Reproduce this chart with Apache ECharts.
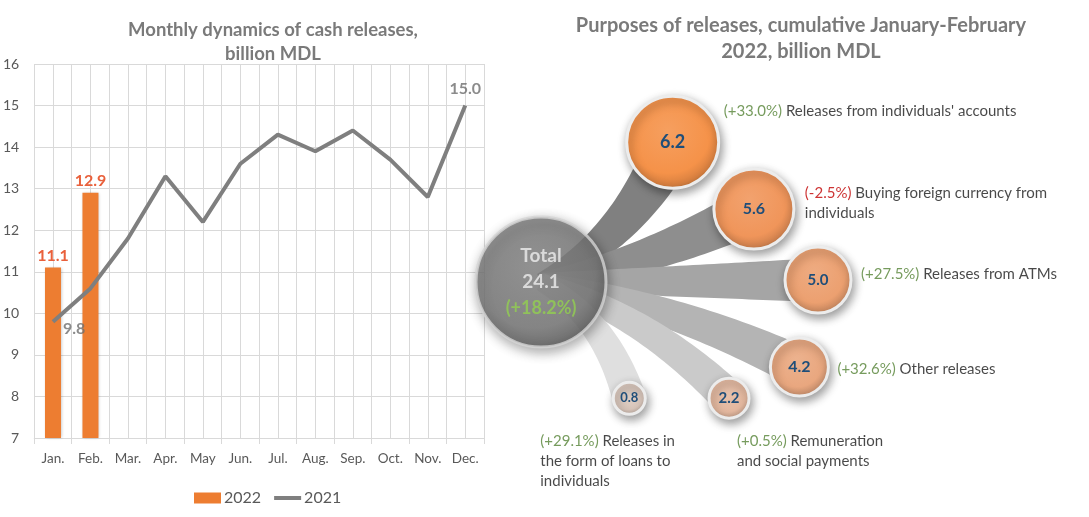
<!DOCTYPE html>
<html>
<head>
<meta charset="utf-8">
<script src="https://cdn.jsdelivr.net/npm/echarts@6/dist/echarts.min.js"></script>
<style>
html,body{margin:0;padding:0;background:#fff;}
#c{width:1089px;height:517px;}
</style>
</head>
<body>
<div id="c"></div>
<script>
// ---------- data ----------
const months = ['Jan.', 'Feb.', 'Mar.', 'Apr.', 'May', 'Jun.', 'Jul.', 'Aug.', 'Sep.', 'Oct.', 'Nov.', 'Dec.'];
const cash2022 = [11.1, 12.9];
const cash2021 = [9.8, 10.6, 11.8, 13.3, 12.2, 13.6, 14.3, 13.9, 14.4, 13.7, 12.8, 15.0];
const seriesNames = ['2022', '2021'];

const totalValue = 24.1;
const totalChange = '+18.2';
const purposeValues = [6.2, 5.6, 5.0, 4.2, 2.2, 0.8];
const purposeChanges = ['+33.0', '-2.5', '+27.5', '+32.6', '+0.5', '+29.1'];
const purposeNames = [
  "Releases from individuals' accounts",
  'Buying foreign currency from\nindividuals',
  'Releases from ATMs',
  'Other releases',
  'Remuneration\nand social payments',
  'Releases in\nthe form of loans to\nindividuals'
];

// ---------- layout / style (not data) ----------
const FONT = 'Lato';
const bubbleAngle = [-46.7, -18.9, -0.4, 18.2, 31.7, 52.8];
const bubbleDist = [192, 225, 277, 272, 221, 146];
const bubbleSize = [92, 80, 66, 58, 40, 32];
const bubbleFont = [18, 16, 15, 16, 15, 13];
const bubbleBase = ['#f59249', '#f0955a', '#eca070', '#e9a77f', '#e4b89f', '#dac7bc'];
const bandColors = ['#808080', '#8e8e8e', '#a5a5a5', '#b4b4b4', '#cacaca', '#dfdfdf'];
const labelPos = [
  {position: 'right', distance: 5, offset: [0, -31]},
  {position: 'right', distance: 5, offset: [6, -6]},
  {position: 'right', distance: 5, offset: [5, -6]},
  {position: 'right', distance: 5, offset: [4, 2]},
  {position: 'bottom', distance: 0, offset: [8, 13], align: 'left'},
  {position: 'bottom', distance: 0, offset: [-89, 17], align: 'left'}
];

function mix(hex, target, t) {
  const a = parseInt(hex.slice(1), 16);
  const r = (a >> 16) & 255, g = (a >> 8) & 255, b = a & 255;
  const tv = target === 'w' ? 255 : 0;
  const f = v => Math.round(v + (tv - v) * t);
  return 'rgb(' + f(r) + ',' + f(g) + ',' + f(b) + ')';
}
function radial(base) {
  return {
    type: 'radial', x: 0.45, y: 0.38, r: 0.62,
    colorStops: [
      {offset: 0, color: mix(base, 'w', 0.12)},
      {offset: 0.72, color: base},
      {offset: 0.92, color: mix(base, 'b', 0.12)},
      {offset: 1, color: mix(base, 'b', 0.22)}
    ]
  };
}

const chart = echarts.init(document.getElementById('c'), null, {renderer: 'canvas'});

// labels of the 2021 line: first and last month only
const lineLabelData = cash2021.map((v, i) => {
  if (i === 0) return {value: v, label: {show: true, position: 'right', distance: 10, offset: [0, 7]}};
  if (i === cash2021.length - 1) return {value: v, label: {show: true, position: 'top', distance: 9}};
  return '-';
});

const bubbleData = purposeValues.map((v, i) => ({
  value: [bubbleDist[i], bubbleAngle[i], v],
  symbolSize: bubbleSize[i],
  itemStyle: {color: radial(bubbleBase[i])},
  label: {fontSize: bubbleFont[i]}
}));

const outerData = purposeValues.map((v, i) => ({
  value: [bubbleDist[i], bubbleAngle[i], v],
  symbolSize: bubbleSize[i],
  label: Object.assign({
    formatter: (purposeChanges[i][0] === '-' ? '{r|' : '{g|') + '(' + purposeChanges[i] + '%)} ' + purposeNames[i]
  }, labelPos[i])
}));

const option = {
  animation: false,
  backgroundColor: '#ffffff',
  textStyle: {fontFamily: FONT},
  title: [
    {
      text: 'Monthly dynamics of cash releases,\nbillion MDL',
      left: 268, top: 13, textAlign: 'center',
      textStyle: {fontFamily: FONT, fontSize: 18.5, fontWeight: 'bold', color: '#7a7a7a', lineHeight: 24}
    },
    {
      text: 'Purposes of releases, cumulative January-February\n2022, billion MDL',
      left: 796, top: 8, textAlign: 'center',
      textStyle: {fontFamily: FONT, fontSize: 20, fontWeight: 'bold', color: '#7a7a7a', lineHeight: 26}
    }
  ],
  legend: {
    data: [
      {name: seriesNames[0], icon: 'rect'},
      {name: seriesNames[1], icon: 'path://M0,0L27,0L27,4L0,4Z', itemStyle: {color: '#7f7f7f'}}
    ],
    left: 189, top: 485,
    itemWidth: 27, itemHeight: 11, itemGap: 13, symbolKeepAspect: true,
    textStyle: {fontFamily: FONT, fontSize: 16, color: '#595959', padding: [0, 0, 0, -2]},
    selectedMode: false
  },
  grid: {left: 33, right: 605, top: 64, bottom: 79, containLabel: false},
  xAxis: [
    {
      type: 'category', data: months, boundaryGap: true,
      axisLine: {show: true, lineStyle: {color: '#d9d9d9', width: 1}},
      axisTick: {show: true, length: 6, lineStyle: {color: '#d9d9d9'}},
      axisLabel: {fontFamily: FONT, fontSize: 13.5, color: '#595959', margin: 14},
      splitLine: {show: false}
    },
    {
      type: 'value', min: 0, max: 24, interval: 1, position: 'bottom',
      axisLine: {show: false}, axisTick: {show: false}, axisLabel: {show: false},
      splitLine: {show: true, lineStyle: {color: '#d9d9d9', width: 1}}
    }
  ],
  yAxis: {
    type: 'value', min: 7, max: 16, interval: 1,
    axisLine: {show: false}, axisTick: {show: false},
    axisLabel: {fontFamily: FONT, fontSize: 14, color: '#595959', margin: 15},
    splitLine: {show: true, lineStyle: {color: '#d9d9d9', width: 1}}
  },
  polar: {center: [541, 282], radius: 300},
  radiusAxis: {
    type: 'value', min: 0, max: 300,
    axisLine: {show: false}, axisTick: {show: false}, axisLabel: {show: false}, splitLine: {show: false}
  },
  angleAxis: {
    type: 'value', min: -180, max: 180, startAngle: 180, clockwise: true,
    axisLine: {show: false}, axisTick: {show: false}, axisLabel: {show: false}, splitLine: {show: false}
  },
  series: [
    {
      name: seriesNames[0], type: 'bar', xAxisIndex: 0, yAxisIndex: 0,
      data: cash2022, barWidth: 16,
      itemStyle: {color: '#ed7d31', shadowBlur: 3, shadowColor: 'rgba(0,0,0,0.25)', shadowOffsetX: 1},
      label: {show: true, position: 'top', distance: 4, fontFamily: FONT, fontSize: 16, fontWeight: 'bold', color: '#e9603b',
        formatter: p => p.value.toFixed(1)},
      z: 2
    },
    {
      name: seriesNames[1], type: 'line', xAxisIndex: 0, yAxisIndex: 0,
      data: cash2021, symbol: 'none',
      lineStyle: {color: '#7f7f7f', width: 4},
      itemStyle: {color: '#7f7f7f'},
      z: 3
    },
    {
      type: 'scatter', xAxisIndex: 0, yAxisIndex: 0, silent: true,
      data: lineLabelData, symbolSize: 0,
      itemStyle: {color: 'rgba(0,0,0,0)'},
      label: {show: false, fontFamily: FONT, fontSize: 16, fontWeight: 'bold', color: '#6e6e6e',
        formatter: p => Number(p.value).toFixed(1)},
      z: 4
    },
    {
      type: 'custom', coordinateSystem: 'polar', polarIndex: 0, z: 1, silent: true,
      data: purposeValues.map((v, i) => [bubbleDist[i], bubbleAngle[i], i, v]),
      renderItem: function (params, api) {
        const i = api.value(2);
        const p0 = api.coord([0, 0]);
        const p1 = api.coord([api.value(0), api.value(1)]);
        const dx = p1[0] - p0[0], dy = p1[1] - p0[1];
        const d = Math.sqrt(dx * dx + dy * dy);
        const th = Math.atan2(dy, dx);
        const thc = th * 0.55;
        const q = [p0[0] + 0.5 * d * Math.cos(thc), p0[1] + 0.5 * d * Math.sin(thc)];
        const r = bubbleSize[i] / 2;
        const w0 = 9, w1 = 12 + 0.3 * r;
        const left = [], right = [];
        const N = 40;
        for (let k = 0; k <= N; k++) {
          const t = k / N;
          const a = (1 - t) * (1 - t), b = 2 * (1 - t) * t, c = t * t;
          const bx = a * p0[0] + b * q[0] + c * p1[0];
          const by = a * p0[1] + b * q[1] + c * p1[1];
          const tx = 2 * (1 - t) * (q[0] - p0[0]) + 2 * t * (p1[0] - q[0]);
          const ty = 2 * (1 - t) * (q[1] - p0[1]) + 2 * t * (p1[1] - q[1]);
          const L = Math.sqrt(tx * tx + ty * ty) || 1;
          const nx = -ty / L, ny = tx / L;
          const w = w0 + (w1 - w0) * t;
          left.push([bx + nx * w, by + ny * w]);
          right.push([bx - nx * w, by - ny * w]);
        }
        return {
          type: 'polygon',
          shape: {points: left.concat(right.reverse())},
          style: {fill: bandColors[i]}
        };
      }
    },
    {
      type: 'scatter', coordinateSystem: 'polar', polarIndex: 0, z: 5, silent: true,
      data: bubbleData,
      itemStyle: {borderColor: '#ececec', borderWidth: 3, shadowBlur: 10, shadowOffsetX: 2, shadowOffsetY: 4, shadowColor: 'rgba(0,0,0,0.38)', opacity: 1},
      label: {
        show: true, position: 'inside', formatter: p => p.value[2].toFixed(1),
        fontFamily: FONT, fontWeight: 'bold', color: '#1f4e79'
      }
    },
    {
      type: 'scatter', coordinateSystem: 'polar', polarIndex: 0, z: 6, silent: true,
      data: outerData,
      itemStyle: {color: 'rgba(0,0,0,0)'},
      label: {
        show: true, fontFamily: FONT, fontSize: 15, color: '#1a1a1a', lineHeight: 20,
        rich: {
          g: {color: '#548235', fontFamily: FONT, fontSize: 15, lineHeight: 20},
          r: {color: '#c00000', fontFamily: FONT, fontSize: 15, lineHeight: 20}
        }
      }
    },
    {
      type: 'scatter', coordinateSystem: 'polar', polarIndex: 0, z: 7, silent: true,
      data: [{value: [0, 0, totalValue], symbolSize: 130}],
      itemStyle: {
        color: {
          type: 'radial', x: 0.45, y: 0.38, r: 0.62,
          colorStops: [
            {offset: 0, color: '#8a8a8a'}, {offset: 0.75, color: '#7a7a7a'},
            {offset: 0.93, color: '#666666'}, {offset: 1, color: '#5a5a5a'}
          ]
        },
        borderColor: '#d4d4d4', borderWidth: 3,
        shadowBlur: 12, shadowOffsetX: 2, shadowOffsetY: 4, shadowColor: 'rgba(0,0,0,0.4)'
      },
      label: {
        show: true, position: 'inside',
        formatter: p => '{a|Total}\n{a|' + p.value[2].toFixed(1) + '}\n{g|(' + totalChange + '%)}',
        rich: {
          a: {fontFamily: FONT, fontSize: 19, fontWeight: 'bold', color: '#eeeeee', lineHeight: 26},
          g: {fontFamily: FONT, fontSize: 18, fontWeight: 'bold', color: '#92d050', lineHeight: 26}
        }
      }
    }
  ]
};
chart.setOption(option);
</script>
</body>
</html>
